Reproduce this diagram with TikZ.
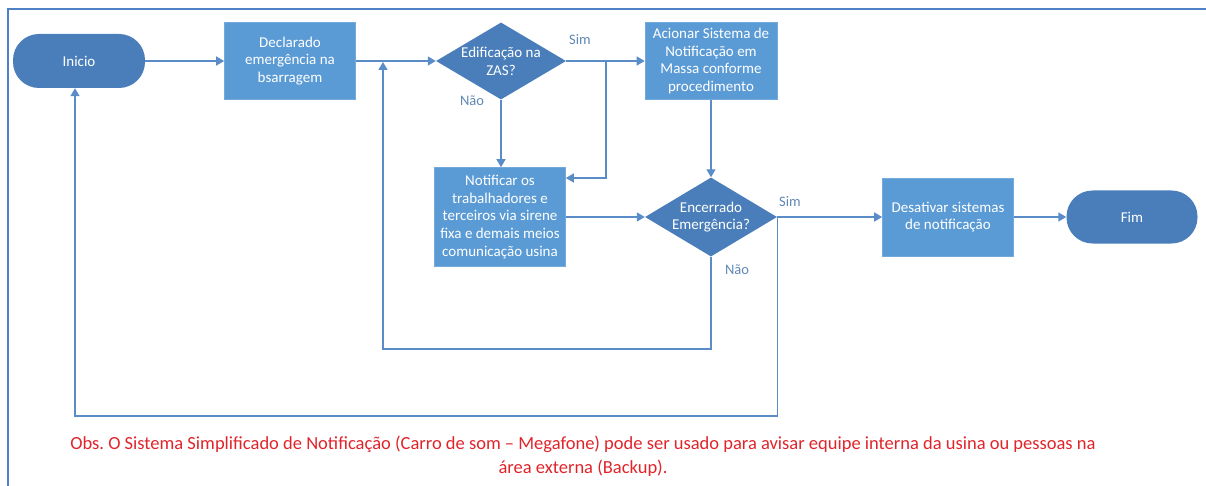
\documentclass[tikz,border=0pt]{standalone}
\usepackage{fontspec}
\setmainfont{Carlito}
\usetikzlibrary{arrows.meta,shapes.geometric}
\definecolor{boxblue}{HTML}{5B9BD5}
\definecolor{darkblue}{HTML}{4A7EBB}
\definecolor{linecol}{HTML}{5A8DC8}
\definecolor{lblcol}{HTML}{5F88B4}
\definecolor{obsred}{HTML}{E0242A}
\definecolor{framecol}{HTML}{4F81C6}
\tikzset{
  nodetext/.style={text=white, font=\fontsize{15}{17.8}\selectfont, align=center, inner sep=0pt},
  procbox/.style={nodetext, rectangle, fill=boxblue, draw=boxblue!85!white, line width=0.6pt},
  term/.style={nodetext, rectangle, rounded corners=26pt, fill=darkblue, minimum width=132pt, minimum height=54pt},
  decision/.style={nodetext, diamond, fill=darkblue, aspect=1.69, inner sep=-10pt},
  conn/.style={draw=linecol, line width=1.4pt},
  arr/.style={conn, -{Triangle[length=8pt,width=9pt]}},
  lbl/.style={text=lblcol, font=\fontsize{14.5}{16}\selectfont, inner sep=0pt},
}
\begin{document}
\begin{tikzpicture}[x=1pt,y=-1pt]
\useasboundingbox (0,0) rectangle (1206,486);
% frame
\draw[framecol, line width=1.5pt] (8,486) -- (8,9) -- (1206,9);

% nodes
\node[term] (inicio) at (79,61) {Inicio};
\node[procbox, minimum width=131pt, minimum height=77pt] (decl) at (290,61) {Declarado\\emergência na\\bsarragem};
\node[decision, minimum width=130pt, minimum height=77pt] (dia1) at (501,61) {Edificação na\\ZAS?};
\node[procbox, minimum width=132pt, minimum height=77pt] (acion) at (711,61) {Acionar Sistema de\\Notificação em\\Massa conforme\\procedimento};
\node[procbox, minimum width=131pt, minimum height=99pt] (notif) at (500,217) {Notificar os\\trabalhadores e\\terceiros via sirene\\fixa e demais meios\\comunicação usina};
\node[decision, minimum width=132pt, minimum height=79pt] (dia2) at (711,217) {Encerrado\\Emergência?};
\node[procbox, minimum width=131pt, minimum height=78pt] (desat) at (948,217) {Desativar sistemas\\de notificação};
\node[term, minimum width=131pt, minimum height=53pt] (fim) at (1132,217) {Fim};

% labels
\node[lbl] (sim1) at (580,40) {Sim};
\node[lbl] (nao1) at (472,101) {Não};
\node[lbl] (sim2) at (790,202) {Sim};
\node[lbl] (nao2) at (737,270) {Não};

% helper coordinates
\coordinate (b1) at (606,61);
\coordinate (b1b) at (606,178);
\coordinate (j1) at (383,61);
\coordinate (l1) at (383,349);
\coordinate (l2) at (75,416);

% connectors
\draw[arr] (inicio.east) -- (decl.west);
\draw[arr] (decl.east) -- (dia1.west);
\draw[arr] (dia1.east) -- (acion.west);
\draw[arr] (b1) -- (b1b) -- (b1b -| notif.east);
\draw[arr] (dia1.south) -- (dia1.south |- notif.north);
\draw[arr] (notif.east) -- (dia2.west);
\draw[arr] (acion.south -| dia2.north) -- (dia2.north);
\draw[arr] (dia2.east) -- (desat.west);
\draw[arr] (desat.east) -- (fim.west);
\draw[arr] (dia2.south) -- (dia2.south |- l1) -- (l1) -- ([yshift=-1pt]j1);
\draw[arr] (dia2.east) -- (dia2.east |- l2) -- (l2) -- (l2 |- inicio.south);

% note
\node[text=obsred, font=\fontsize{18.5}{24}\selectfont, align=center, inner sep=0pt] (obs) at (583,456)
  {Obs.\ O Sistema Simplificado de Notificação (Carro de som – Megafone) pode ser usado para avisar equipe interna da usina ou pessoas na\\área externa (Backup).};
\end{tikzpicture}
\end{document}
